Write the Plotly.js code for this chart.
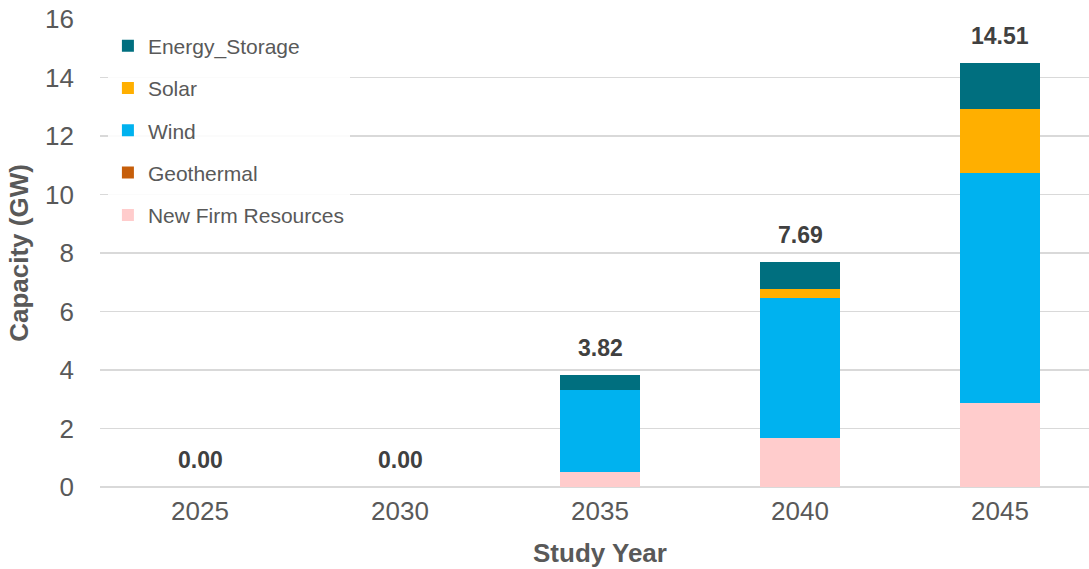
<!DOCTYPE html>
<html>
<head>
<meta charset="utf-8">
<script src="https://cdn.plot.ly/plotly-3.0.1.min.js"></script>
<style>
  html, body { margin: 0; padding: 0; background: #ffffff; }
  #chart { width: 1089px; height: 569px; }
</style>
</head>
<body>
<div id="chart"></div>
<script>
// Study years and installed capacity (GW) by resource type
const years = ['2025', '2030', '2035', '2040', '2045'];
const newFirmResources = [0, 0, 0.52, 1.68, 2.88];
const geothermal = [0, 0, 0, 0, 0];
const wind = [0, 0, 2.81, 4.79, 7.84];
const solar = [0, 0, 0, 0.29, 2.19];
const energyStorage = [0, 0, 0.49, 0.93, 1.60];

// Stacked bottom-to-top; legend lists them top-to-bottom
const series = [
  { name: 'New Firm Resources', values: newFirmResources, color: '#FFCCCC' },
  { name: 'Geothermal', values: geothermal, color: '#C65E0A' },
  { name: 'Wind', values: wind, color: '#00B2EF' },
  { name: 'Solar', values: solar, color: '#FFAF00' },
  { name: 'Energy_Storage', values: energyStorage, color: '#006F7F' }
];

const traces = series.map((s, i) => ({
  type: 'bar',
  name: s.name,
  x: years,
  y: s.values,
  legendgroup: s.name,
  legendrank: series.length - i,
  marker: { color: s.color, line: { width: 0 } },
  hoverinfo: 'skip'
}));

// Stack totals shown above each bar
const totals = years.map((_, i) => series.reduce((acc, s) => acc + s.values[i], 0));

const font = 'Liberation Sans, Arial, sans-serif';
const gray = '#595959';

const annotations = years.map((yr, i) => ({
  x: i,
  y: totals[i],
  xref: 'x',
  yref: 'y',
  text: '<b>' + totals[i].toFixed(2) + '</b>',
  showarrow: false,
  yanchor: 'middle',
  yshift: 27,
  font: { family: font, size: 23, color: '#404040' }
}));

// Axis title centred under the middle category
annotations.push({
  x: 2,
  y: 0,
  xref: 'x',
  yref: 'paper',
  yanchor: 'middle',
  yshift: -66,
  text: '<b>Study Year</b>',
  showarrow: false,
  font: { family: font, size: 26, color: gray }
});

const layout = {
  width: 1089,
  height: 569,
  margin: { l: 100, r: 0, t: 19, b: 82 },
  paper_bgcolor: '#ffffff',
  plot_bgcolor: '#ffffff',
  barmode: 'stack',
  bargap: 0.6,
  font: { family: font, color: gray },
  xaxis: {
    type: 'category',
    range: [-0.5, 4.445],
    showgrid: false,
    showline: false,
    ticks: '',
    ticklabelstandoff: 6,
    tickfont: { family: font, size: 26, color: gray }
  },
  yaxis: {
    range: [0, 16],
    dtick: 2,
    showgrid: true,
    gridcolor: '#d9d9d9',
    gridwidth: 1.5,
    zeroline: true,
    zerolinecolor: '#d9d9d9',
    zerolinewidth: 1.5,
    ticks: '',
    ticklabelstandoff: 25,
    tickfont: { family: font, size: 26, color: gray },
    title: {
      text: '<b>Capacity (GW)</b>',
      standoff: 8,
      font: { family: font, size: 26, color: gray }
    }
  },
  legend: {
    x: 0.008,
    y: 0.986,
    xanchor: 'left',
    yanchor: 'top',
    bgcolor: 'rgba(255,255,255,0.88)',
    traceorder: 'grouped',
    tracegroupgap: 12,
    font: { family: font, size: 21, color: gray }
  },
  annotations: annotations,
  showlegend: true
};

Plotly.newPlot('chart', traces, layout, { displayModeBar: false, staticPlot: true });
</script>
</body>
</html>
